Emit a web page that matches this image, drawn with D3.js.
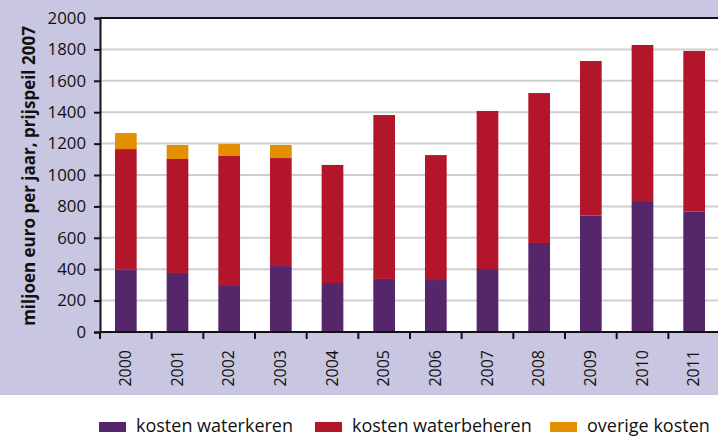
<!DOCTYPE html>
<html><head><meta charset="utf-8">
<script src="https://cdn.jsdelivr.net/npm/d3@7"></script>
<style>body{margin:0;background:#fff}svg{display:block}text{font-family:"Open Sans",sans-serif}</style>
</head><body><svg id="c" width="718" height="437"></svg>
<script>
const years = ["2000","2001","2002","2003","2004","2005","2006","2007","2008","2009","2010","2011"];
const waterkeren = [400,376,299,420,312,338,331,401,567,741,834,766];
const waterbeheren = [765,726,822,688,752,1044,796,1007,955,985,994,1024];
const overige = [102,89,76,83,0,0,0,0,0,0,0,0];
const seriesNames = ["kosten waterkeren","kosten waterbeheren","overige kosten"];
const colors = ["#56266a","#b3162b","#e38f00"];
const yTicks = [0,200,400,600,800,1000,1200,1400,1600,1800,2000];

const svg = d3.select("#c");
svg.append("rect").attr("x",0).attr("y",0).attr("width",718).attr("height",395).attr("fill","#c8c6e0");
const L=100, R=720, T=18, B=332;
svg.append("rect").attr("x",L).attr("y",T).attr("width",R-L).attr("height",B-T).attr("fill","#fff");
const x = d3.scaleBand().domain(years).range([L,R]).paddingInner(0.58).paddingOuter(0.29);
const y = d3.scaleLinear().domain([0,2000]).range([B,T]);

svg.append("g").selectAll("line").data(yTicks.slice(1,-1)).join("line")
  .attr("x1",L).attr("x2",R).attr("y1",d=>y(d)).attr("y2",d=>y(d))
  .attr("stroke","#cfcfcf").attr("stroke-width",2);

const data = years.map((yr,i)=>({year:yr,k0:waterkeren[i],k1:waterbeheren[i],k2:overige[i]}));
const stack = d3.stack().keys(["k0","k1","k2"])(data);
svg.append("g").selectAll("g").data(stack).join("g").attr("fill",(d,i)=>colors[i])
  .selectAll("rect").data(d=>d).join("rect")
  .attr("x",d=>x(d.data.year)).attr("width",x.bandwidth())
  .attr("y",d=>y(d[1])).attr("height",d=>y(d[0])-y(d[1]));

// top border
svg.append("line").attr("x1",L).attr("x2",R).attr("y1",T).attr("y2",T).attr("stroke","#111").attr("stroke-width",2);

const ya = svg.append("g").attr("transform",`translate(${L},0)`)
  .call(d3.axisLeft(y).tickValues(yTicks).tickSize(6).tickPadding(8).tickFormat(d3.format("d")));
ya.select(".domain").attr("stroke","#111").attr("stroke-width",2);
ya.selectAll(".tick line").attr("stroke","#111").attr("stroke-width",2);
ya.selectAll("text").attr("font-size",16.8).attr("fill","#111");

const step = x.step();
const xa = svg.append("g").attr("transform",`translate(0,${B})`);
xa.append("line").attr("x1",L).attr("x2",R).attr("stroke","#111").attr("stroke-width",2);
xa.selectAll("line.t").data(d3.range(years.length+1)).join("line").attr("class","t")
  .attr("x1",i=>L+i*step).attr("x2",i=>L+i*step).attr("y1",0).attr("y2",7)
  .attr("stroke","#111").attr("stroke-width",2);
xa.selectAll("text").data(years).join("text")
  .attr("transform",d=>`translate(${x(d)+x.bandwidth()/2+5},18) rotate(-90)`)
  .attr("text-anchor","end").attr("font-size",16).attr("fill","#111").text(d=>d);

svg.append("text").attr("transform","translate(35,176) rotate(-90)").attr("text-anchor","middle")
  .attr("font-size",17).attr("font-weight","bold").attr("fill","#111")
  .text("miljoen euro per jaar, prijspeil 2007");

const legX = [99,315,550];
const lg = svg.append("g").selectAll("g").data(seriesNames).join("g")
  .attr("transform",(d,i)=>`translate(${legX[i]},0)`);
lg.append("rect").attr("x",0).attr("y",422).attr("width",27).attr("height",10).attr("fill",(d,i)=>colors[i]);
lg.append("text").attr("x",37).attr("y",432).attr("font-size",18).attr("fill","#111").text(d=>d);
</script></body></html>
